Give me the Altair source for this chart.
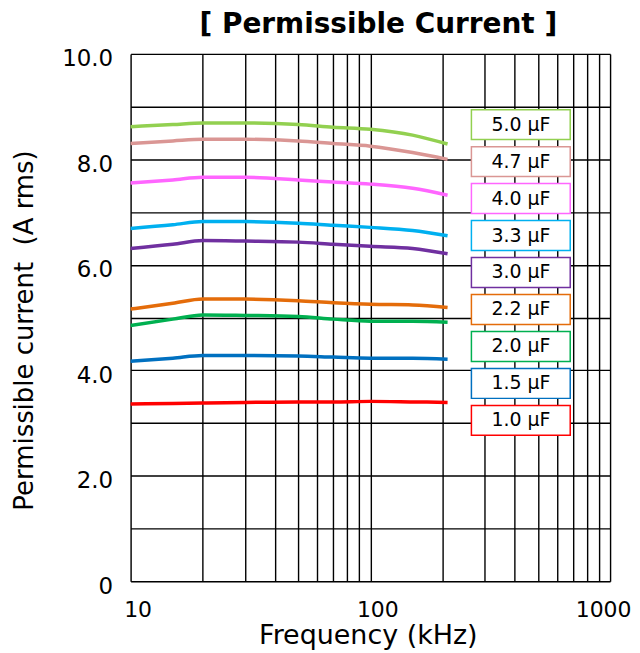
import altair as alt
import pandas as pd

# ---- data ----
freq_khz = [10, 15, 20, 30, 50, 70, 100, 150, 210]
labels = ["5.0 µF", "4.7 µF", "4.0 µF", "3.3 µF", "3.0 µF", "2.2 µF", "2.0 µF", "1.5 µF", "1.0 µF"]
colors = ["#92D050", "#DA9694", "#FF66FF", "#00B0F0", "#7030A0", "#E46C0A", "#00B050", "#0070C0", "#FF0000"]
cur_50 = [8.62, 8.66, 8.69, 8.69, 8.66, 8.61, 8.57, 8.46, 8.29]
cur_47 = [8.30, 8.35, 8.38, 8.38, 8.35, 8.30, 8.25, 8.13, 8.00]
cur_40 = [7.55, 7.61, 7.66, 7.66, 7.61, 7.57, 7.53, 7.45, 7.32]
cur_33 = [6.69, 6.76, 6.82, 6.82, 6.79, 6.75, 6.71, 6.65, 6.55]
cur_30 = [6.31, 6.39, 6.46, 6.45, 6.43, 6.39, 6.35, 6.31, 6.21]
cur_22 = [5.16, 5.27, 5.35, 5.35, 5.32, 5.28, 5.25, 5.24, 5.19]
cur_20 = [4.85, 4.97, 5.05, 5.04, 5.02, 4.97, 4.93, 4.93, 4.91]
cur_15 = [4.17, 4.23, 4.28, 4.28, 4.27, 4.25, 4.23, 4.23, 4.21]
cur_10 = [3.36, 3.37, 3.38, 3.39, 3.40, 3.40, 3.41, 3.40, 3.39]
series_values = [cur_50, cur_47, cur_40, cur_33, cur_30, cur_22, cur_20, cur_15, cur_10]

x_grid = [10, 20, 30, 40, 50, 60, 70, 80, 90, 100, 200, 300, 400, 500, 600, 700, 800, 900, 1000]
y_grid = [i * 0.5 for i in range(21)]

FONT = "DejaVu Sans"

rows = []
for lab, vals in zip(labels, series_values):
    for f, v in zip(freq_khz, vals):
        rows.append({"series": lab, "freq": f, "cur": v})
df = pd.DataFrame(rows)

# legend boxes placed in data space (layout)
leg_top, leg_step, leg_half = 8.658, 0.701, 0.284
leg_rows = []
for i, lab in enumerate(labels):
    yc = leg_top - i * leg_step
    leg_rows.append({"series": lab, "x1": 264, "x2": 682, "xt": 425,
                     "y1": yc - leg_half, "y2": yc + leg_half, "yc": yc})
leg = pd.DataFrame(leg_rows)

color = alt.Color("series:N", scale=alt.Scale(domain=labels, range=colors), legend=None)
xscale = alt.Scale(type="log", domain=[10, 1000], nice=False)
yscale = alt.Scale(domain=[0, 10], nice=False, zero=False)

xaxis = alt.Axis(values=x_grid, title="Frequency (kHz)",
                 labelExpr="(datum.value == 10 || datum.value == 100 || datum.value == 1000) ? format(datum.value, 'd') : ''",
                 labelOverlap=False, labelFlush=False, ticks=False, domain=False,
                 labelFontSize=22, labelFont=FONT, labelColor="black",
                 labelBaseline="alphabetic", labelPadding=35,
                 labelOffset={"condition": {"test": "datum.value == 1000", "value": -7}, "value": 7},
                 titleFont=FONT, titleFontSize=27, titleFontWeight="normal", titleColor="black",
                 titleX=238, titleY=63, titleBaseline="alphabetic", titleAlign="center", titleAnchor="start",
                 grid=True, gridColor="black", gridWidth=1.4, gridOpacity=1)
yaxis = alt.Axis(values=y_grid, title="Permissible current\u00a0 (A rms)",
                 labelExpr="datum.value % 2 == 0 ? (datum.value == 0 ? '0' : format(datum.value, '.1f')) : ''",
                 labelOverlap=False, labelFlush=False, ticks=False, domain=False,
                 labelFontSize=23, labelFont=FONT, labelColor="black",
                 labelPadding=18, labelOffset=5,
                 titleFont=FONT, titleFontSize=26, titleFontWeight="normal", titleColor="black",
                 titleAngle=-90, titleX=-98, titleY=277, titleBaseline="alphabetic", titleAlign="center",
                 titleAnchor="start",
                 grid=True, gridColor="black", gridWidth=1.4, gridOpacity=1)

lines = alt.Chart(df).mark_line(strokeWidth=3.5, interpolate="monotone").encode(
    x=alt.X("freq:Q", scale=xscale, axis=xaxis),
    y=alt.Y("cur:Q", scale=yscale, axis=yaxis),
    color=color,
    detail="series:N",
)

boxes = alt.Chart(leg).mark_rect(fill="white", strokeWidth=1.5).encode(
    x=alt.X("x1:Q", scale=xscale), x2="x2:Q",
    y=alt.Y("y1:Q", scale=yscale), y2="y2:Q",
    stroke=alt.Stroke("series:N", scale=alt.Scale(domain=labels, range=colors), legend=None),
)

texts = alt.Chart(leg).mark_text(font=FONT, fontSize=19, color="black", align="center", baseline="middle").encode(
    x=alt.X("xt:Q", scale=xscale),
    y=alt.Y("yc:Q", scale=yscale),
    text="series:N",
)

chart = alt.layer(lines, boxes, texts).properties(
    width=481, height=529,
    autosize=alt.AutoSizeParams(type="none"),
    padding={"left": 123, "top": 45, "right": 22, "bottom": 68},
    title=alt.TitleParams("[ Permissible Current ]", font=FONT, fontSize=28, fontWeight="bold",
                          color="black", anchor="middle", baseline="alphabetic", offset=18, dx=8,
                          dy=31, frame="group"),
).configure_view(stroke="black", strokeWidth=2.5).configure(background="white")

chart.save("out.html", embed_options={"renderer": "svg", "actions": False})
